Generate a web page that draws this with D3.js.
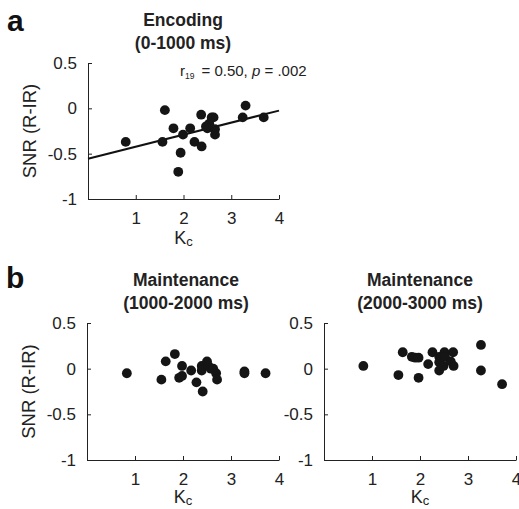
<!DOCTYPE html>
<html>
<head>
<meta charset="utf-8">
<script src="https://cdn.jsdelivr.net/npm/d3@7"></script>
<style>
  body { margin: 0; background: #fff; }
  svg { display: block; font-family: "Liberation Sans", Arial, Helvetica, sans-serif; }
</style>
</head>
<body>
<script>
// Kc vs SNR (R-IR), one point per subject
const encKc  = [0.79, 1.61, 1.56, 1.79, 1.99, 1.94, 1.89, 2.14, 2.23, 2.37, 2.38, 2.59, 2.63, 2.54, 2.50, 2.66, 2.66, 2.47, 3.24, 3.30, 3.68];
const encSnr = [-0.37, -0.02, -0.37, -0.22, -0.29, -0.49, -0.70, -0.22, -0.37, -0.07, -0.42, -0.10, -0.10, -0.17, -0.22, -0.23, -0.29, -0.20, -0.10, 0.03, -0.10];

const m1Kc  = [0.83, 1.55, 1.64, 1.83, 1.98, 1.92, 1.98, 2.17, 2.28, 2.41, 2.39, 2.39, 2.50, 2.53, 2.58, 2.63, 2.69, 2.71, 3.28, 3.28, 3.72];
const m1Snr = [-0.05, -0.12, 0.08, 0.16, 0.03, -0.10, -0.08, -0.02, -0.15, -0.25, 0.03, -0.02, 0.08, 0.03, 0.0, 0.0, -0.05, -0.12, -0.03, -0.05, -0.05];

const m2Kc  = [0.82, 1.55, 1.64, 1.83, 1.90, 1.97, 1.97, 2.17, 2.26, 2.40, 2.51, 2.40, 2.40, 2.49, 2.52, 2.69, 2.64, 2.70, 3.27, 3.27, 3.71];
const m2Snr = [0.03, -0.07, 0.18, 0.13, 0.12, 0.12, -0.10, 0.05, 0.18, 0.13, 0.18, 0.07, -0.02, 0.03, 0.13, 0.18, 0.08, 0.03, 0.26, -0.02, -0.17];

// least-squares line for encoding panel, end points
const fitKc  = [0, 4];
const fitSnr = [-0.556, -0.025];

const xTicks = [1, 2, 3, 4];
const yTicks = [0.5, 0, -0.5, -1];

const width = 519, height = 509;
const svg = d3.select('body').append('svg')
    .attr('width', width)
    .attr('height', height);

function panel(opt) {
  const x = d3.scaleLinear().domain([0, 4]).range([opt.left, opt.right]);
  const y = d3.scaleLinear().domain([-1, 0.5]).range([opt.bottom, opt.top]);
  const g = svg.append('g');

  // axes, MATLAB style: ticks pointing inwards, no box
  const xAxis = g.append('g')
      .attr('transform', `translate(0,${opt.bottom})`)
      .call(d3.axisBottom(x).tickValues(xTicks).tickSizeInner(-4).tickSizeOuter(0).tickPadding(9).tickFormat(d => String(d)));
  const yAxis = g.append('g')
      .attr('transform', `translate(${opt.left},0)`)
      .call(d3.axisLeft(y).tickValues(yTicks).tickSizeInner(-4).tickSizeOuter(0).tickPadding(11)
        .tickFormat(d => String(d)));
  [xAxis, yAxis].forEach(a => {
    a.select('.domain').attr('stroke', '#222').attr('stroke-width', 1);
    a.selectAll('.tick line').attr('stroke', '#222');
    a.selectAll('.tick text').attr('font-size', 17).attr('fill', '#222')
      .attr('font-family', '"Liberation Sans", Arial, sans-serif');
  });
  xAxis.selectAll('.tick text').attr('dy', '0.95em');

  // x label K_c
  const xl = g.append('text')
      .attr('x', (opt.left + opt.right) / 2)
      .attr('y', opt.bottom + opt.xlabGap)
      .attr('text-anchor', 'middle')
      .attr('font-size', 18)
      .attr('fill', '#222');
  xl.append('tspan').text('K');
  xl.append('tspan').attr('font-size', 13).attr('dy', 2).text('c');

  if (opt.ylabel) {
    g.append('text')
      .attr('transform', `translate(${opt.left - 52},${(opt.top + opt.bottom) / 2}) rotate(-90)`)
      .attr('text-anchor', 'middle')
      .attr('font-size', 18.5)
      .attr('fill', '#222')
      .text('SNR (R-IR)');
  }

  // title, two lines
  opt.title.forEach((t, i) => {
    g.append('text')
      .attr('x', opt.titleX)
      .attr('y', opt.top - 37 + i * 23)
      .attr('text-anchor', 'middle')
      .attr('font-size', 17.5)
      .attr('font-weight', 'bold')
      .attr('fill', '#222')
      .text(t);
  });

  if (opt.fit) {
    g.append('line')
      .attr('x1', x(opt.fit[0][0])).attr('y1', y(opt.fit[1][0]))
      .attr('x2', x(opt.fit[0][1])).attr('y2', y(opt.fit[1][1]))
      .attr('stroke', '#111')
      .attr('stroke-width', 2);
  }

  g.append('g').selectAll('circle')
    .data(d3.zip(opt.xs, opt.ys))
    .join('circle')
      .attr('cx', d => x(d[0]))
      .attr('cy', d => y(d[1]))
      .attr('r', 4.9)
      .attr('fill', '#151515');

  return { x, y, g };
}

const pa = panel({
  left: 88, right: 279, top: 63, bottom: 199, xlabGap: 45,
  xs: encKc, ys: encSnr, fit: [fitKc, fitSnr],
  title: ['Encoding', '(0-1000 ms)'], titleX: 183, ylabel: true
});

// correlation note
const note = pa.g.append('text')
    .attr('x', 180)
    .attr('y', 76)
    .attr('font-size', 15)
    .attr('fill', '#222');
note.append('tspan').text('r');
note.append('tspan').attr('font-size', 8.5).attr('dy', 3).text('19');
note.append('tspan').attr('dy', -3).attr('dx', 7).text('= 0.50, ');
note.append('tspan').attr('font-style', 'italic').text('p');
note.append('tspan').text(' = .002');

panel({
  left: 87, right: 279, top: 323, bottom: 460, xlabGap: 43,
  xs: m1Kc, ys: m1Snr,
  title: ['Maintenance', '(1000-2000 ms)'], titleX: 186, ylabel: true
});

panel({
  left: 324, right: 516, top: 323, bottom: 460, xlabGap: 43,
  xs: m2Kc, ys: m2Snr,
  title: ['Maintenance', '(2000-3000 ms)'], titleX: 420, ylabel: false
});

// panel letters
svg.append('text').attr('x', 7).attr('y', 31).attr('font-size', 30).attr('font-weight', 'bold').attr('fill', '#111').text('a');
svg.append('text').attr('x', 6).attr('y', 288).attr('font-size', 30).attr('font-weight', 'bold').attr('fill', '#111').text('b');
</script>
</body>
</html>
